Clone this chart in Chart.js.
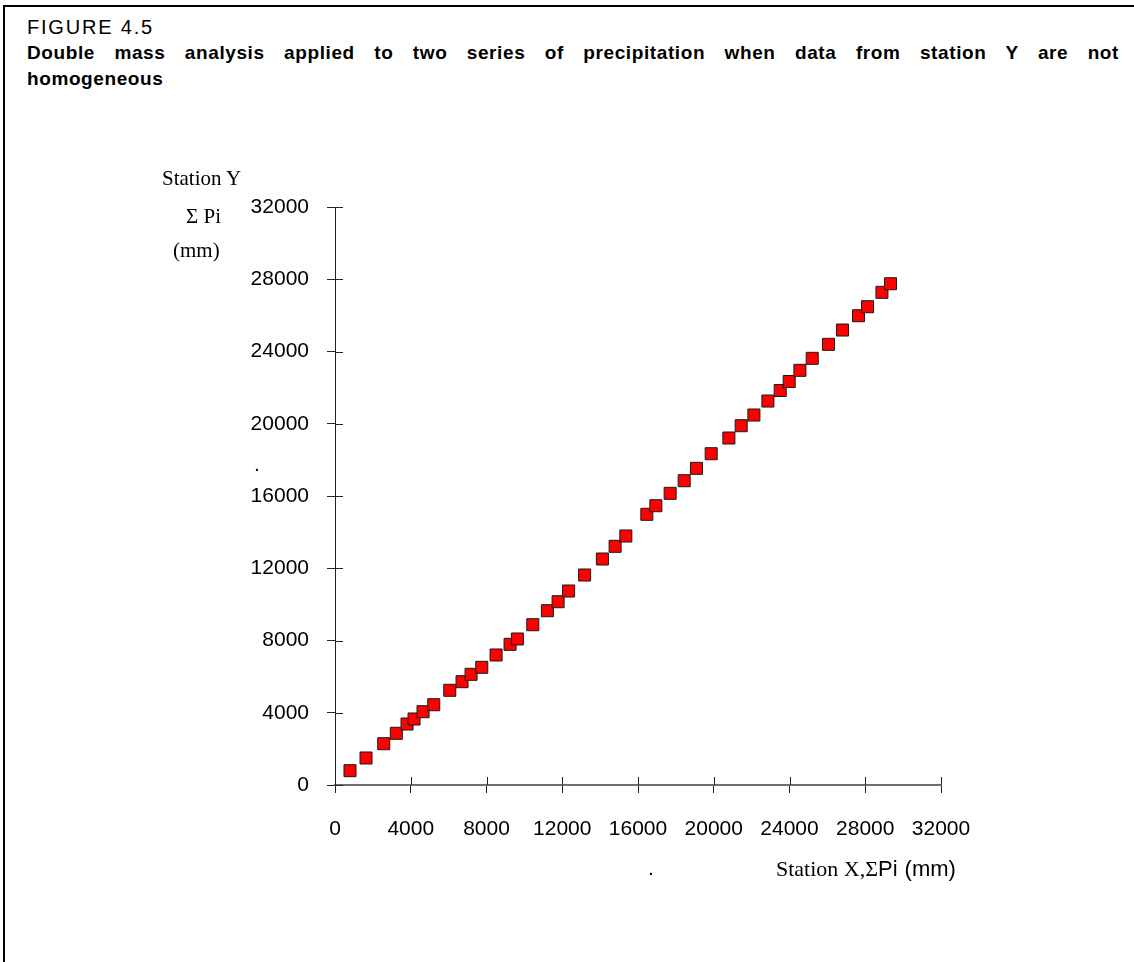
<!DOCTYPE html>
<html>
<head>
<meta charset="utf-8">
<script src="https://cdn.jsdelivr.net/npm/chart.js@4"></script>
<style>
  body { margin: 0; background: #fff; width: 1134px; height: 962px; overflow: hidden; position: relative; font-family: "Liberation Sans", Arial, sans-serif; }
  #frame { position: absolute; left: 3px; top: 5px; width: 1140px; height: 970px; border-top: 2px solid #000; border-left: 2px solid #000; }
  #fig { position: absolute; left: 27px; top: 16px; font-size: 20px; letter-spacing: 1.8px; color: #000; }
  .cap { position: absolute; left: 27px; width: 1092px; font-size: 19px; font-weight: bold; letter-spacing: 0.6px; white-space: nowrap; }
  #cap1 { top: 42px; text-align: justify; text-align-last: justify; white-space: normal; }
  #cap2 { top: 68px; }
  .serif { font-family: "Liberation Serif", "Times New Roman", serif; }
  .lbl { position: absolute; font-size: 21px; color: #000; white-space: nowrap; }
  canvas { position: absolute; left: 0; top: 0; }
</style>
</head>
<body>
<div id="frame"></div>
<div id="fig">FIGURE 4.5</div>
<div class="cap" id="cap1">Double mass analysis applied to two series of precipitation when data from station Y are not</div>
<div class="cap" id="cap2">homogeneous</div>
<canvas id="chart" width="1134" height="962"></canvas>
<div class="lbl serif" style="left:162px; top:166px;">Station Y</div>
<div class="lbl serif" style="left:186px; top:204px;">&Sigma; Pi</div>
<div class="lbl serif" style="left:173px; top:238px;">(mm)</div>
<div class="lbl" style="left:254px; top:452px;">.</div>
<div class="lbl" style="left:648px; top:856px;">.</div>
<div class="lbl" style="left:776px; top:856px; font-size:22px;"><span class="serif">Station X,&Sigma;</span><span>Pi</span><span style="margin-left:7px;">(mm)</span></div>
<script>
// cumulative precipitation, mm
const stationX = [792, 1638, 2573, 3239, 3804, 4174, 4649, 5214, 6060, 6709,
  7185, 7750, 8506, 9245, 9631, 10445, 11216, 11781, 12336, 13181,
  14121, 14792, 15358, 16467, 16943, 17698, 18438, 19087, 19864, 20799,
  21449, 22120, 22860, 23509, 23985, 24550, 25200, 26061, 26801, 27646,
  28121, 28882, 29336];
const stationY = [792, 1495, 2286, 2862, 3377, 3654, 4058, 4445, 5243, 5719,
  6128, 6516, 7197, 7789, 8083, 8874, 9649, 10147, 10740, 11626,
  12511, 13214, 13785, 14986, 15462, 16148, 16846, 17532, 18341, 19210,
  19891, 20483, 21258, 21840, 22338, 22958, 23622, 24397, 25189, 25980,
  26479, 27276, 27752];
const xTicks = [0, 4000, 8000, 12000, 16000, 20000, 24000, 28000, 32000];
const yTicks = [0, 4000, 8000, 12000, 16000, 20000, 24000, 28000, 32000];

const points = stationX.map((x, i) => ({ x: x, y: stationY[i] }));

// ticks cross the axis: draw the inner half too
const innerTicks = {
  id: 'innerTicks',
  afterDraw(chart) {
    const { ctx, chartArea, scales } = chart;
    ctx.save();
    ctx.strokeStyle = '#222';
    ctx.lineWidth = 1;
    ctx.beginPath();
    xTicks.forEach(v => {
      const px = Math.round(scales.x.getPixelForValue(v)) + 0.5;
      ctx.moveTo(px, chartArea.bottom);
      ctx.lineTo(px, chartArea.bottom - 8);
    });
    yTicks.forEach(v => {
      const py = Math.round(scales.y.getPixelForValue(v)) + 0.5;
      ctx.moveTo(chartArea.left, py);
      ctx.lineTo(chartArea.left + 8, py);
    });
    ctx.stroke();
    ctx.restore();
  }
};

const tickFont = { family: "'Liberation Sans', Arial, sans-serif", size: 21 };

new Chart(document.getElementById('chart').getContext('2d'), {
  type: 'scatter',
  data: {
    datasets: [{
      data: points,
      pointStyle: 'rect',
      pointRadius: 8.5,
      pointHoverRadius: 8.5,
      backgroundColor: '#ff0000',
      borderColor: '#1a1a1a',
      borderWidth: 1
    }]
  },
  options: {
    responsive: false,
    animation: false,
    layout: { padding: { left: 215, right: 193, top: 207, bottom: 117 } },
    plugins: { legend: { display: false }, tooltip: { enabled: false } },
    scales: {
      x: {
        type: 'linear',
        min: 0,
        max: 32000,
        afterBuildTicks: s => { s.ticks = xTicks.map(v => ({ value: v })); },
        afterFit: s => { s.height = 60; },
        border: { color: '#707070', width: 2 },
        grid: { drawOnChartArea: false, tickLength: 8, color: '#222' },
        ticks: { color: '#000', font: tickFont, padding: 24, maxRotation: 0, autoSkip: false, callback: v => String(v) }
      },
      y: {
        type: 'linear',
        min: 0,
        max: 32000,
        afterBuildTicks: s => { s.ticks = yTicks.map(v => ({ value: v })); },
        afterFit: s => { s.width = 120; },
        border: { color: '#222', width: 1 },
        grid: { drawOnChartArea: false, tickLength: 8, color: '#222' },
        ticks: { color: '#000', font: tickFont, padding: 18, autoSkip: false, callback: v => String(v) }
      }
    }
  },
  plugins: [innerTicks]
});
</script>
</body>
</html>
